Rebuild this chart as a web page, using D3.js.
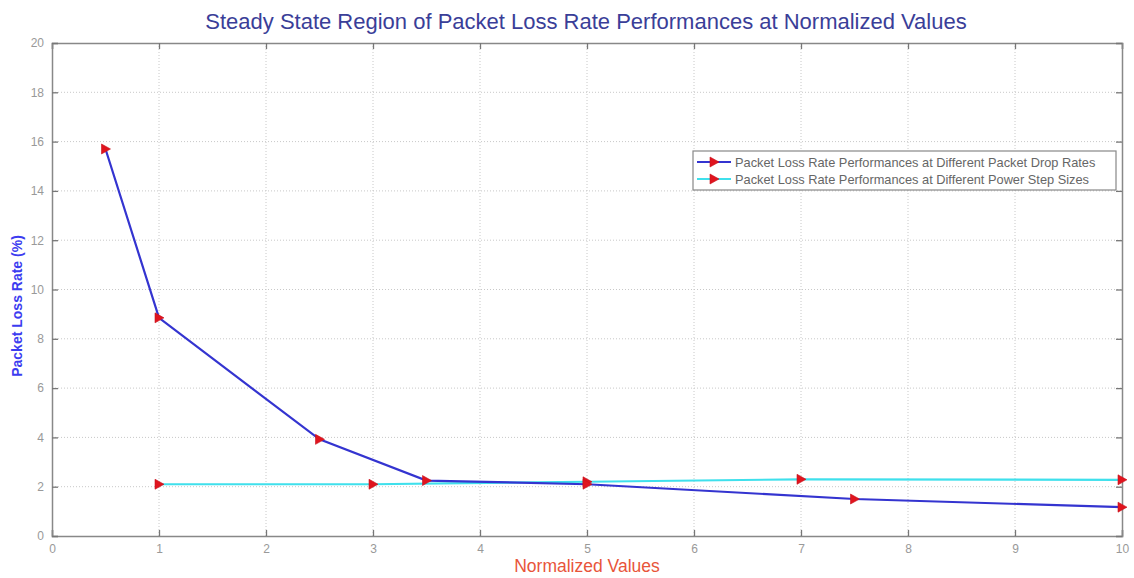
<!DOCTYPE html>
<html>
<head>
<meta charset="utf-8">
<script src="https://cdn.jsdelivr.net/npm/d3@7"></script>
<style>
  body { margin: 0; background: #fff; }
  svg { display: block; font-family: Arial, "Liberation Sans", sans-serif; }
</style>
</head>
<body>
<svg id="chart" width="1134" height="578"></svg>
<script>
// Packet loss rate at different packet drop rates
const dropX = [0.5, 1, 2.5, 3.5, 5, 7.5, 10];
const dropY = [15.7, 8.85, 3.92, 2.25, 2.1, 1.5, 1.17];

// Packet loss rate at different power step sizes
const stepX = [1, 3, 5, 7, 10];
const stepY = [2.1, 2.1, 2.2, 2.3, 2.28];

const xTicks = [0, 1, 2, 3, 4, 5, 6, 7, 8, 9, 10];
const yTicks = [0, 2, 4, 6, 8, 10, 12, 14, 16, 18, 20];

const seriesNames = [
  "Packet Loss Rate Performances at Different Packet Drop Rates",
  "Packet Loss Rate Performances at Different Power Step Sizes"
];

const margin = { left: 52, top: 43, right: 12, bottom: 42 };
const W = 1134, H = 578;
const svg = d3.select("#chart");

const x = d3.scaleLinear().domain([0, 10]).range([margin.left, W - margin.right]);
const y = d3.scaleLinear().domain([0, 20]).range([H - margin.bottom, margin.top]);

const x0 = x.range()[0], x1 = x.range()[1];
const y0 = y.range()[0], y1 = y.range()[1];

// Dotted grid
const grid = svg.append("g");
grid.selectAll("line.gx").data(xTicks.slice(1, -1)).join("line")
  .attr("x1", d => x(d)).attr("x2", d => x(d))
  .attr("y1", y1).attr("y2", y0)
  .attr("stroke", "#c8c8c8").attr("stroke-width", 1).attr("stroke-dasharray", "1,2");
grid.selectAll("line.gy").data(yTicks.slice(1, -1)).join("line")
  .attr("x1", x0).attr("x2", x1)
  .attr("y1", d => y(d)).attr("y2", d => y(d))
  .attr("stroke", "#c8c8c8").attr("stroke-width", 1).attr("stroke-dasharray", "1,2");

// Axes with inward ticks
const tickColor = "#777";
const xAxis = svg.append("g").attr("transform", `translate(0,${y0})`)
  .call(d3.axisBottom(x).tickValues(xTicks).tickSize(-6).tickPadding(8).tickFormat(d3.format("d")));
const xAxisTop = svg.append("g").attr("transform", `translate(0,${y1})`)
  .call(d3.axisTop(x).tickValues(xTicks).tickSize(-6).tickFormat(""));
const yAxis = svg.append("g").attr("transform", `translate(${x0},0)`)
  .call(d3.axisLeft(y).tickValues(yTicks).tickSize(-6).tickPadding(8).tickFormat(d3.format("d")));
const yAxisRight = svg.append("g").attr("transform", `translate(${x1},0)`)
  .call(d3.axisRight(y).tickValues(yTicks).tickSize(-6).tickFormat(""));

[xAxis, xAxisTop, yAxis, yAxisRight].forEach(g => {
  g.select(".domain").attr("stroke", "#888").attr("stroke-width", 1.5);
  g.selectAll(".tick line").attr("stroke", tickColor).attr("stroke-width", 1.3);
  g.selectAll(".tick text").attr("fill", "#999").attr("font-size", 12)
    .attr("font-family", "Arial, 'Liberation Sans', sans-serif");
});

// Series lines
const line = d3.line().x(d => x(d[0])).y(d => y(d[1]));
const dropPts = dropX.map((v, i) => [v, dropY[i]]);
const stepPts = stepX.map((v, i) => [v, stepY[i]]);

svg.append("path").datum(stepPts).attr("d", line)
  .attr("fill", "none").attr("stroke", "#3fe0ec").attr("stroke-width", 2.2);
svg.append("path").datum(dropPts).attr("d", line)
  .attr("fill", "none").attr("stroke", "#3434d0").attr("stroke-width", 2.2);

// Right-pointing triangle markers
const tri = "M-4,-5 L5,0 L-4,5 Z";
function markers(pts) {
  svg.append("g").selectAll("path").data(pts).join("path")
    .attr("transform", d => `translate(${x(d[0])},${y(d[1])})`)
    .attr("d", tri).attr("fill", "#e0141e").attr("stroke", "#c8101c").attr("stroke-width", 0.6);
}
markers(stepPts);
markers(dropPts);

// Title and axis labels
svg.append("text").attr("x", 586).attr("y", 29).attr("text-anchor", "middle")
  .attr("font-size", 22).attr("fill", "#3a3e98").text("Steady State Region of Packet Loss Rate Performances at Normalized Values");
svg.append("text").attr("x", x(5)).attr("y", 572).attr("text-anchor", "middle")
  .attr("font-size", 17.5).attr("fill", "#e8553a").text("Normalized Values");
svg.append("text").attr("transform", "translate(22,306) rotate(-90)").attr("text-anchor", "middle")
  .attr("font-size", 14).attr("font-weight", "bold").attr("fill", "#3c3cf0").text("Packet Loss Rate (%)");

// Legend
const lg = svg.append("g").attr("transform", "translate(693,151)");
lg.append("rect").attr("width", 423).attr("height", 39)
  .attr("fill", "#fff").attr("stroke", "#888").attr("stroke-width", 1.2);
const legendColors = ["#3434d0", "#3fe0ec"];
seriesNames.forEach((name, i) => {
  const ly = 11 + i * 17;
  lg.append("line").attr("x1", 4).attr("x2", 38).attr("y1", ly).attr("y2", ly)
    .attr("stroke", legendColors[i]).attr("stroke-width", 2);
  lg.append("path").attr("transform", `translate(21,${ly})`).attr("d", tri)
    .attr("fill", "#e0141e").attr("stroke", "#c8101c").attr("stroke-width", 0.6);
  lg.append("text").attr("x", 42).attr("y", ly + 4.5).attr("font-size", 12.8)
    .attr("fill", "#666").text(name);
});
</script>
</body>
</html>
